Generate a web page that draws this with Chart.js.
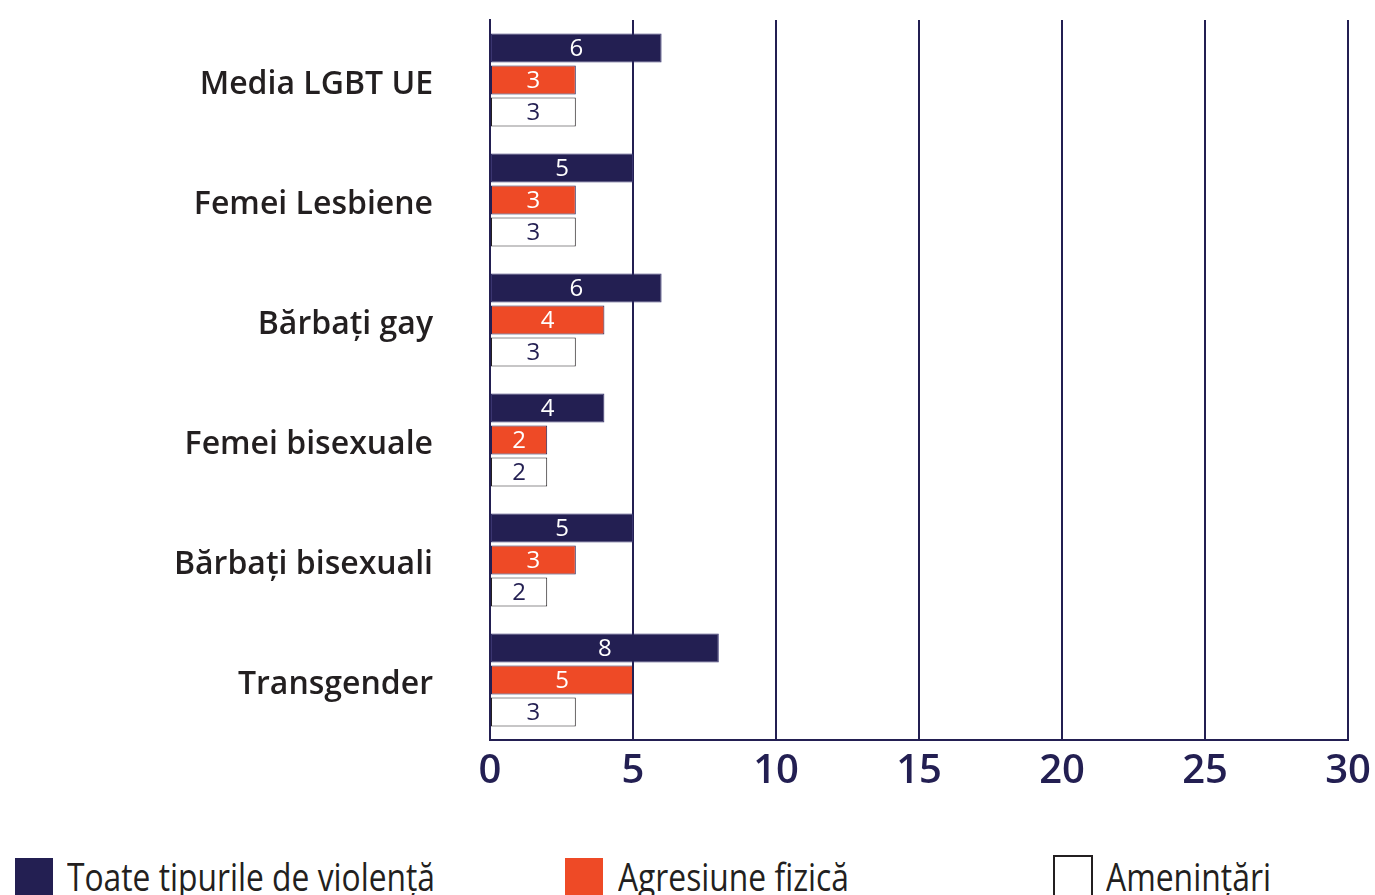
<!DOCTYPE html>
<html><head><meta charset="utf-8">
<script src="https://cdn.jsdelivr.net/npm/chart.js@4"></script>
<style>
html,body{margin:0;padding:0;width:1375px;height:895px;overflow:hidden;background:#fff;}
#c{position:absolute;left:0;top:0;}
.box{position:absolute;box-sizing:border-box;}
.txt{position:absolute;font-family:"Open Sans",sans-serif;font-size:38px;color:#231F20;white-space:nowrap;transform-origin:0 0;line-height:1;}
</style></head><body>
<canvas id="c" width="1375" height="800"></canvas>
<div class="box" style="left:15px;top:858px;width:38px;height:40px;background:#231F52;"></div>
<div class="txt" id="t1" data-w="368" style="left:67px;top:857px;">Toate tipurile de violență</div>
<div class="box" style="left:565px;top:858px;width:38px;height:40px;background:#EE4A26;"></div>
<div class="txt" id="t2" data-w="231" style="left:618px;top:857px;">Agresiune fizică</div>
<div class="box" style="left:1053px;top:855px;width:40px;height:45px;background:#fff;border:2px solid #231F20;"></div>
<div class="txt" id="t3" data-w="165" style="left:1106px;top:857px;">Amenințări</div>
<script>
const categories = ["Media LGBT UE","Femei Lesbiene","Bărbați gay","Femei bisexuale","Bărbați bisexuali","Transgender"];
const seriesNames = ["Toate tipurile de violență","Agresiune fizică","Amenințări"];
const allViolence = [6,5,6,4,5,8];
const physical = [3,3,4,2,3,5];
const threats = [3,3,3,2,2,3];
const xTicks = [0,5,10,15,20,25,30];

const NAVY = '#231F52', ORANGE = '#EE4A26', INK = '#231F20';

document.querySelectorAll('.txt').forEach(el => {
  const w = el.getBoundingClientRect().width;
  el.style.transform = 'scaleX(' + (parseFloat(el.dataset.w) / w) + ')';
});

const labelPlugin = {
  id: 'barLabels',
  afterDatasetsDraw(chart) {
    const ctx = chart.ctx;
    const colors = ['#ffffff', '#ffffff', NAVY];
    chart.data.datasets.forEach((ds, i) => {
      const meta = chart.getDatasetMeta(i);
      meta.data.forEach((el, j) => {
        const p = el.getProps(['x','y','base'], true);
        ctx.save();
        ctx.font = '400 24px "Open Sans"';
        ctx.fillStyle = colors[i];
        ctx.textAlign = 'center';
        ctx.textBaseline = 'middle';
        ctx.fillText(String(ds.data[j]), (p.x + p.base) / 2, p.y + 1);
        ctx.restore();
      });
    });
  }
};

new Chart(document.getElementById('c'), {
  type: 'bar',
  data: {
    labels: categories,
    datasets: [
      { label: seriesNames[0], data: allViolence, backgroundColor: NAVY, borderColor: '#3a3570', borderWidth: 1 },
      { label: seriesNames[1], data: physical, backgroundColor: ORANGE, borderColor: NAVY, borderWidth: 1 },
      { label: seriesNames[2], data: threats, backgroundColor: '#ffffff', borderColor: INK, borderWidth: 1 }
    ]
  },
  options: {
    indexAxis: 'y',
    responsive: false,
    animation: false,
    devicePixelRatio: 1,
    datasets: { bar: { categoryPercentage: 0.8, barPercentage: 0.9, borderSkipped: false } },
    layout: { padding: { left: 0, top: 20, right: 27, bottom: 0 } },
    plugins: { legend: { display: false }, tooltip: { enabled: false } },
    scales: {
      x: {
        min: 0, max: 30,
        afterBuildTicks(scale) { scale.ticks = xTicks.map(v => ({ value: v })); },
        afterFit(scale) { scale.height = 60; scale.paddingLeft = 0; scale.paddingRight = 0; },
        grid: { color: NAVY, lineWidth: 2, drawTicks: false },
        border: { display: true, color: NAVY, width: 2 },
        ticks: { color: NAVY, padding: 8, font: { family: 'Open Sans', size: 40, weight: '600' } }
      },
      y: {
        afterFit(scale) { scale.width = 490; scale.paddingTop = 0; scale.paddingBottom = 0; },
        grid: { display: false, drawTicks: false },
        border: { display: true, color: NAVY, width: 2 },
        ticks: { color: INK, padding: 57, labelOffset: 5, font: { family: 'Open Sans', size: 32, weight: '600' } }
      }
    }
  },
  plugins: [labelPlugin]
});
</script>
</body></html>
